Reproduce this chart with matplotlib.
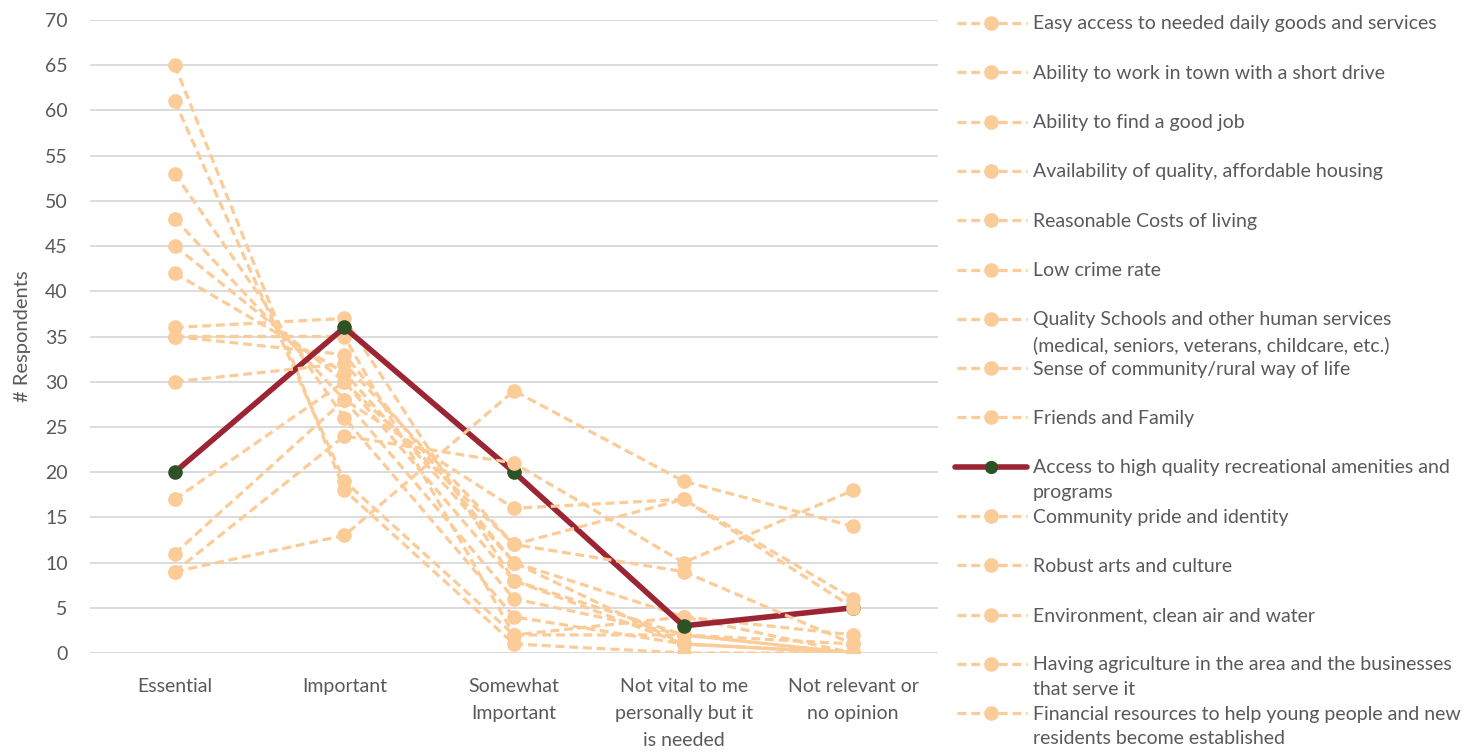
import numpy as np
import matplotlib
matplotlib.use("Agg")
import matplotlib.pyplot as plt
from matplotlib.lines import Line2D

plt.rcParams['font.family'] = ['Lato', 'DejaVu Sans']

categories = ["Essential", "Important", "Somewhat\nImportant",
              "Not vital to me\npersonally but it\nis needed",
              "Not relevant or\nno opinion"]

easy_access = [45, 30, 8, 1, 0]
work_in_town = [35, 33, 10, 4, 2]
good_job = [36, 37, 8, 2, 1]
housing = [53, 26, 4, 1, 0]
cost_of_living = [48, 28, 6, 2, 0]
low_crime = [61, 19, 2, 2, 0]
schools = [42, 31, 10, 1, 0]
sense_of_community = [65, 18, 1, 0, 0]
friends_family = [35, 35, 2, 4, 0]
recreation = [20, 36, 20, 3, 5]
community_pride = [30, 32, 12, 9, 1]
arts_culture = [9, 24, 21, 10, 18]
environment = [17, 30, 12, 17, 5]
agriculture = [11, 28, 16, 17, 6]
financial = [9, 13, 29, 19, 14]

labels = [
    "Easy access to needed daily goods and services",
    "Ability to work in town with a short drive",
    "Ability to find a good job",
    "Availability of quality, affordable housing",
    "Reasonable Costs of living",
    "Low crime rate",
    "Quality Schools and other human services\n(medical, seniors, veterans, childcare, etc.)",
    "Sense of community/rural way of life",
    "Friends and Family",
    "Access to high quality recreational amenities and\nprograms",
    "Community pride and identity",
    "Robust arts and culture",
    "Environment, clean air and water",
    "Having agriculture in the area and the businesses\nthat serve it",
    "Financial resources to help young people and new\nresidents become established",
]
series = [easy_access, work_in_town, good_job, housing, cost_of_living,
          low_crime, schools, sense_of_community, friends_family, recreation,
          community_pride, arts_culture, environment, agriculture, financial]
highlight = 9

light = "#FBCB98"
red = "#9C2534"
green = "#2E5126"
txt = "#595959"
dash = (0, (2.8, 1.5))

W, H = 1467, 752
fig = plt.figure(figsize=(W / 100, H / 100), dpi=100)
ax = fig.add_axes([90 / W, 1 - 653 / H, 848 / W, 633 / H])

x = np.arange(len(categories))
for i, vals in enumerate(series):
    if i == highlight:
        ax.plot(x, vals, color=red, lw=4, marker="o", ms=9.5,
                mfc=green, mec=green, solid_capstyle="round", zorder=3)
    else:
        ax.plot(x, vals, color=light, lw=2.3, ls=dash, marker="o",
                ms=9.5, mfc=light, mec=light, zorder=3)

ax.set_xlim(-0.5, 4.5)
ax.set_ylim(0, 70)
ax.set_yticks(range(0, 71, 5))
ax.set_xticks(x)
ax.set_xticklabels(categories, linespacing=1.7)
ax.grid(axis="y", color="#D9D9D9", lw=1.3, zorder=0)
ax.set_axisbelow(True)
for s in ax.spines.values():
    s.set_visible(False)
ax.tick_params(length=0, labelsize=14, colors=txt)
ax.tick_params(axis="x", pad=18)
ax.tick_params(axis="y", pad=16)
ax.set_ylabel("# Respondents", fontsize=14.5, color=txt, labelpad=10)

# legend drawn by hand so rows stay evenly spaced like the original
step = 49.3
for i, lab in enumerate(labels):
    yp = 23 + i * step
    yf = 1 - yp / H
    if i == highlight:
        ln = Line2D([955 / W, 1027 / W], [yf, yf], transform=fig.transFigure,
                    color=red, lw=4, solid_capstyle="round")
        mk = Line2D([991 / W], [yf], transform=fig.transFigure, marker="o",
                    ms=8.5, color=green, lw=0)
    else:
        ln = Line2D([957 / W, 1027 / W], [yf, yf], transform=fig.transFigure,
                    color=light, lw=2.3, ls=dash)
        mk = Line2D([991 / W], [yf], transform=fig.transFigure, marker="o",
                    ms=9.5, color=light, lw=0)
    fig.add_artist(ln)
    fig.add_artist(mk)
    fig.text(1033 / W, 1 - (yp - 7.5) / H, lab, fontsize=14, color=txt,
             va="top", ha="left", linespacing=1.55)

fig.savefig("out.png", dpi=100)
